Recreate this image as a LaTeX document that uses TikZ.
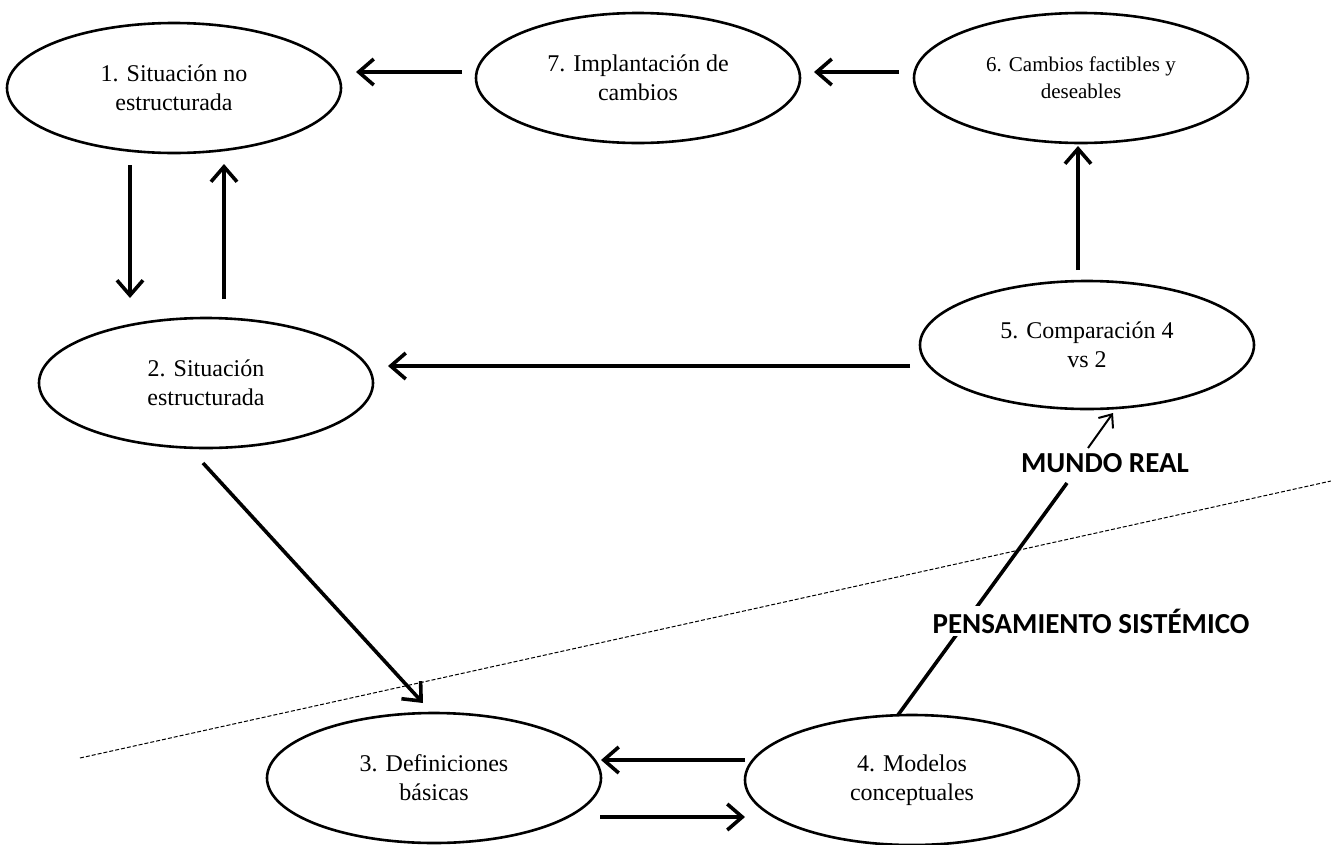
\documentclass[tikz,border=0pt]{standalone}
\usepackage{fontspec}
\setmainfont{Liberation Serif}
\newfontfamily\labfont{Carlito}
\usetikzlibrary{shapes.geometric,arrows.meta}
\tikzset{
  stage/.style={ellipse, draw, line width=2.6pt, fill=white, inner sep=0pt, align=center,
    minimum width=334pt, minimum height=130pt, font=\fontsize{24}{29}\selectfont},
  arr/.style={line width=3.6pt, -{Straight Barb[length=15pt,width=26pt]}},
  thinarr/.style={line width=2pt, -{Straight Barb[length=11pt,width=18pt]}},
  thickline/.style={line width=3.6pt},
  divider/.style={line width=1pt, dash pattern=on 4pt off 2pt},
  zonelabel/.style={font=\labfont\bfseries\fontsize{29}{32}\selectfont, fill=white, inner sep=3pt, anchor=base}
}
\begin{document}
\begin{tikzpicture}[x=1pt,y=-1pt]
\useasboundingbox (0,0) rectangle (1331,844);
% divider between real world and systems thinking
\coordinate (dA) at (80,758);
\coordinate (dB) at (1331,481);
\draw[divider] (dA) -- (dB);
% stages
\node[stage] (n1) at (174,88) {1. Situación no\\estructurada};
\node[stage, minimum width=324pt] (n7) at (638,78) {7. Implantación de\\cambios};
\node[stage, font=\fontsize{21}{27}\selectfont] (n6) at (1081,78) {6. Cambios factibles y\\deseables};
\node[stage] (n2) at (206,383) {2. Situación\\estructurada};
\node[stage, minimum height=128pt] (n5) at (1087,345) {5. Comparación 4\\vs 2};
\node[stage] (n3) at (434,778) {3. Definiciones\\básicas};
\node[stage] (n4) at (912,780) {4. Modelos\\conceptuales};
% arrow end points
\coordinate (a71s) at (462,72);  \coordinate (a71e) at (356,72);
\coordinate (a67s) at (899,72);  \coordinate (a67e) at (814,72);
\coordinate (a12s) at (130,165); \coordinate (a12e) at (130,298);
\coordinate (a21s) at (224,299); \coordinate (a21e) at (224,164);
\coordinate (a52s) at (910,366); \coordinate (a52e) at (388,366);
\coordinate (a56s) at (1078,270); \coordinate (a56e) at (1078,146);
\coordinate (a23s) at (203,463); \coordinate (a23e) at (423,703);
\coordinate (a43s) at (745,760); \coordinate (a43e) at (601,760);
\coordinate (a34s) at (600,817); \coordinate (a34e) at (745,817);
\coordinate (a45s) at (898,715); \coordinate (a45m) at (1067,483);
\coordinate (a45t) at (1088,448); \coordinate (a45e) at (1113,413);
\draw[arr] (a71s) -- (a71e);
\draw[arr] (a67s) -- (a67e);
\draw[arr] (a12s) -- (a12e);
\draw[arr] (a21s) -- (a21e);
\draw[arr] (a52s) -- (a52e);
\draw[arr] (a56s) -- (a56e);
\draw[arr] (a23s) -- (a23e);
\draw[arr] (a43s) -- (a43e);
\draw[arr] (a34s) -- (a34e);
\draw[thickline] (a45s) -- (a45m);
\draw[thinarr] (a45t) -- (a45e);
% zone labels
\node[zonelabel] (mr) at (1105,472) {MUNDO REAL};
\node[zonelabel] (ps) at (1091,633) {PENSAMIENTO SISTÉMICO};
\end{tikzpicture}
\end{document}
